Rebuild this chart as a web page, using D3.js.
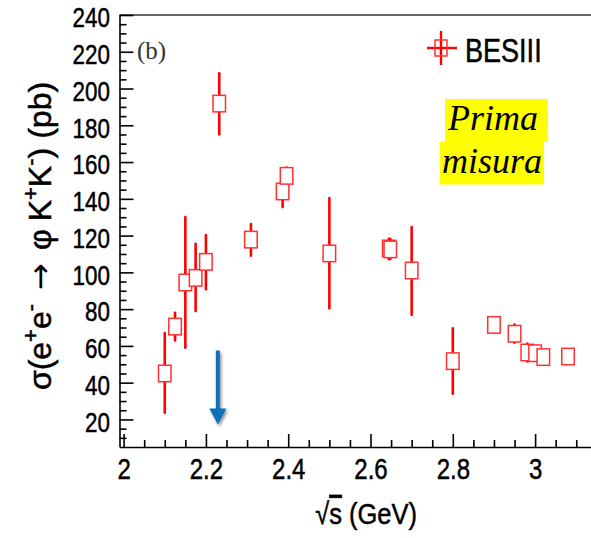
<!DOCTYPE html>
<html>
<head>
<meta charset="utf-8">
<script src="https://cdn.jsdelivr.net/npm/d3@7"></script>
<style>
  body { margin: 0; background: #fff; }
  svg { display: block; }
  .axis path, .axis line { stroke: #000; stroke-width: 1.6; }
  .axis text, .sans { font-family: "Liberation Sans", Arial, sans-serif; fill: #000;
    stroke: #000; stroke-width: 0.5; }
</style>
</head>
<body>
<svg width="591" height="538"></svg>
<script>
// BESIII e+e- -> phi K+K- cross section
var energy = [2.1000, 2.1250, 2.1500, 2.1750, 2.2000, 2.2324, 2.3094, 2.3864, 2.3960, 2.5000,
              2.6444, 2.6480, 2.7000, 2.8000, 2.9000, 2.9500, 2.9810, 3.0000, 3.0200, 3.0800];
var sigma  = [45.0, 70.5, 94.5, 97.0, 105.7, 191.8, 117.8, 144.0, 152.5, 110.3,
              113.0, 112.5, 101.0, 51.7, 71.4, 66.6, 56.4, 56.0, 53.9, 54.2];
var errUp  = [22.0, 7.5, 35.6, 18.6, 14.6, 16.5, 8.5, 8.5, 4.5, 30.1,
              5.2, 5.7, 23.7, 17.9, 2.0, 5.0, 4.9, 3.0, 3.0, 2.0];
var errDn  = [21.4, 7.6, 35.5, 18.0, 14.9, 16.8, 8.7, 8.5, 4.1, 29.8,
              5.9, 5.2, 24.1, 17.7, 2.0, 4.9, 4.9, 3.0, 3.0, 2.0];

var xMajor = [2, 2.2, 2.4, 2.6, 2.8, 3];
var yMajor = [20, 40, 60, 80, 100, 120, 140, 160, 180, 200, 220, 240];
var arrowX = 2.229, arrowFrom = 57.5, arrowTo = 17.3;

var svg = d3.select('svg');
var padL = 119.5, padT = 15, padB = 447;

var x = d3.scaleLinear().domain([1.99, 3.15]).range([padL, padL + 1.16 * 411.5]);
var y = d3.scaleLinear().domain([5, 240]).range([padB, padT]);

var xMinor = d3.range(2, 3.151, 0.05).filter(function(v) {
    return Math.abs(v * 5 - Math.round(v * 5)) > 1e-6;
});
var yMinor = d3.range(10, 240, 5).filter(function(v) { return v % 20 !== 0; });

// frame top
svg.append('line')
    .attr('x1', padL).attr('x2', 591)
    .attr('y1', padT).attr('y2', padT)
    .attr('stroke', '#333').attr('stroke-width', 1.6);

// y axis
var gy = svg.append('g').attr('class', 'axis')
    .attr('transform', 'translate(' + padL + ',0)');
gy.call(d3.axisLeft(y).tickValues(yMajor).tickSizeInner(-14).tickSizeOuter(0).tickPadding(12));
gy.selectAll('text')
    .attr('font-size', 28)
    .attr('transform', 'scale(0.8,1)')
    .attr('dy', '0.42em');
svg.append('g').attr('class', 'axis')
    .attr('transform', 'translate(' + padL + ',0)')
    .call(d3.axisLeft(y).tickValues(yMinor).tickSizeInner(-7).tickSizeOuter(0).tickFormat(''))
    .select('.domain').remove();

// x axis
var gx = svg.append('g').attr('class', 'axis')
    .attr('transform', 'translate(0,' + padB + ')');
gx.call(d3.axisBottom(x).tickValues(xMajor).tickSizeInner(-13).tickSizeOuter(0).tickPadding(11)
    .tickFormat(d3.format('')));
gx.selectAll('text')
    .attr('font-size', 30)
    .attr('transform', 'scale(0.8,1)');
svg.append('g').attr('class', 'axis')
    .attr('transform', 'translate(0,' + padB + ')')
    .call(d3.axisBottom(x).tickValues(xMinor).tickSizeInner(-7).tickSizeOuter(0).tickFormat(''))
    .select('.domain').remove();

// axis titles
var ylab = svg.append('text').attr('class', 'sans')
    .attr('transform', 'translate(51,236) rotate(-90)')
    .attr('text-anchor', 'middle')
    .attr('font-size', 32);
ylab.append('tspan').text('σ(e');
ylab.append('tspan').attr('font-size', 22).attr('dy', -13).text('+');
ylab.append('tspan').attr('dy', 13).text('e');
ylab.append('tspan').attr('font-size', 22).attr('dy', -13).text('-');
ylab.append('tspan').attr('dy', 13).attr('dx', 14)
    .attr('font-family', '"DejaVu Sans", sans-serif').attr('stroke-width', 0).text('→');
ylab.append('tspan').attr('dx', 13).text('φ');
ylab.append('tspan').attr('dx', 8).text('K');
ylab.append('tspan').attr('font-size', 22).attr('dy', -13).text('+');
ylab.append('tspan').attr('dy', 13).text('K');
ylab.append('tspan').attr('font-size', 22).attr('dy', -13).text('-');
ylab.append('tspan').attr('dy', 13).text(')');
ylab.append('tspan').attr('dx', 9).text('(pb)');

var xlab = svg.append('text').attr('class', 'sans')
    .attr('transform', 'translate(417,524) scale(0.85,1)')
    .attr('text-anchor', 'end')
    .attr('font-size', 30);
xlab.append('tspan').text('√');
xlab.append('tspan').style('text-decoration', 'overline').text('s');
xlab.append('tspan').text(' (GeV)');

svg.append('text')
    .attr('x', 137).attr('y', 59)
    .attr('font-family', '"Liberation Serif", "Times New Roman", serif')
    .attr('font-size', 25)
    .attr('fill', '#333')
    .text('(b)');

// data
var pts = energy.map(function(e, i) {
    return {e: e, s: sigma[i], up: errUp[i], dn: errDn[i]};
});
var bw = 12.5, bh = 16.5;
var pt = svg.append('g').selectAll('.pt').data(pts).enter()
    .append('g').attr('class', 'pt');
pt.append('line')
    .attr('x1', function(d) { return x(d.e); })
    .attr('x2', function(d) { return x(d.e); })
    .attr('y1', function(d) { return y(d.s + d.up); })
    .attr('y2', function(d) { return y(d.s - d.dn); })
    .attr('stroke', '#ff0000').attr('stroke-width', 2.6).attr('stroke-linecap', 'round');
pt.append('rect')
    .attr('x', function(d) { return x(d.e) - bw / 2; })
    .attr('y', function(d) { return y(d.s) - bh / 2; })
    .attr('width', bw).attr('height', bh)
    .attr('fill', '#fff')
    .attr('stroke', '#ff3030').attr('stroke-width', 1.5);

// legend
var lx = 441, ly = 48;
svg.append('line').attr('x1', lx - 14).attr('x2', lx + 16).attr('y1', ly).attr('y2', ly)
    .attr('stroke', '#ff0000').attr('stroke-width', 2.4);
svg.append('line').attr('x1', lx).attr('x2', lx).attr('y1', ly - 17).attr('y2', ly + 17)
    .attr('stroke', '#ff0000').attr('stroke-width', 2.4);
svg.append('rect').attr('x', lx - 6).attr('y', ly - 8).attr('width', 12).attr('height', 16)
    .attr('fill', 'none').attr('stroke', '#ff3030').attr('stroke-width', 1.5);
svg.append('text').attr('class', 'sans')
    .attr('transform', 'translate(465,62) scale(0.82,1)')
    .attr('font-size', 33)
    .text('BESIII');

// yellow note
svg.append('rect').attr('x', 445).attr('y', 99).attr('width', 103).attr('height', 43).attr('fill', '#ffff00');
svg.append('rect').attr('x', 440).attr('y', 141.5).attr('width', 104).attr('height', 43).attr('fill', '#ffff00');
svg.append('text')
    .attr('x', 493).attr('y', 130).attr('text-anchor', 'middle')
    .attr('font-family', '"Liberation Serif", "Times New Roman", serif')
    .attr('font-style', 'italic').attr('font-size', 36)
    .text('Prima');
svg.append('text')
    .attr('x', 492).attr('y', 173).attr('text-anchor', 'middle')
    .attr('font-family', '"Liberation Serif", "Times New Roman", serif')
    .attr('font-style', 'italic').attr('font-size', 36)
    .text('misura');

// blue arrow with shadow
var defs = svg.append('defs');
var f = defs.append('filter').attr('id', 'shadow')
    .attr('x', '-50%').attr('y', '-50%').attr('width', '200%').attr('height', '200%');
f.append('feDropShadow').attr('dx', 1.5).attr('dy', 2).attr('stdDeviation', 1.8)
    .attr('flood-color', '#000').attr('flood-opacity', 0.45);
var ax = x(arrowX), ay0 = y(arrowFrom), ay1 = y(arrowTo);
var arrow = svg.append('g').attr('filter', 'url(#shadow)');
arrow.append('rect').attr('x', ax - 2).attr('y', ay0).attr('width', 4).attr('height', ay1 - ay0 - 13)
    .attr('fill', '#0a6fbd');
arrow.append('path')
    .attr('d', 'M' + (ax - 8.5) + ',' + (ay1 - 16) + 'L' + (ax + 8.5) + ',' + (ay1 - 16) + 'L' + ax + ',' + ay1 + 'Z')
    .attr('fill', '#0a6fbd');
</script>
</body>
</html>
